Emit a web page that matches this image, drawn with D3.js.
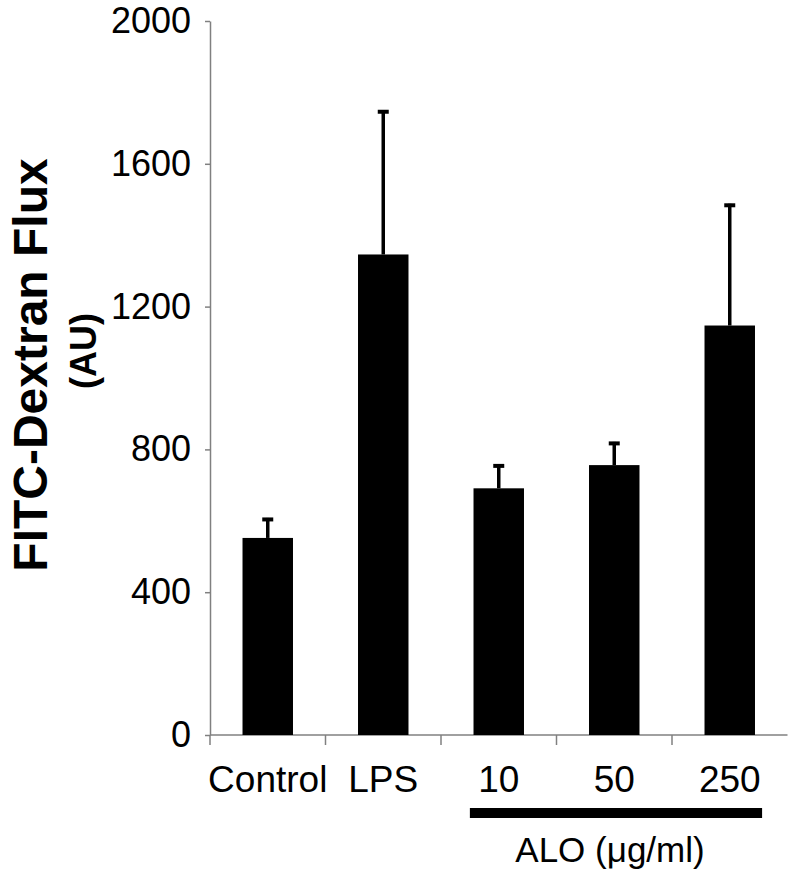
<!DOCTYPE html>
<html>
<head>
<meta charset="utf-8">
<script src="https://cdn.jsdelivr.net/npm/d3@7"></script>
<style>
  body { margin: 0; background: #fff; }
  svg { display: block; font-family: "Liberation Sans", Arial, sans-serif; }
</style>
</head>
<body>
<svg id="chart" width="800" height="880"></svg>
<script>
const categories = ["Control", "LPS", "10", "50", "250"];
const values = [552, 1346, 691, 756, 1147];
const errors = [56, 404, 67, 65, 341];
const yTicks = [0, 400, 800, 1200, 1600, 2000];
const yTitle = "FITC-Dextran Flux";
const yUnit = "(AU)";
const groupLabel = "ALO (\u03BCg/ml)";
const groupCats = ["10", "250"];

const svg = d3.select("#chart");
const x = d3.scaleBand().domain(categories).range([210, 787.5]).padding(0);
const y = d3.scaleLinear().domain([0, 2000]).range([735, 21]);
const bw = x.bandwidth();
const barW = bw * 0.437;
const axisColor = "#808080";

// Y axis
const yAxis = svg.append("g")
  .attr("transform", "translate(210,0)")
  .call(d3.axisLeft(y).tickValues(yTicks).tickFormat(d3.format("d"))
    .tickSize(5).tickPadding(14).tickSizeOuter(0));
yAxis.select(".domain").attr("stroke", axisColor).attr("stroke-width", 1.5);
yAxis.selectAll(".tick line").attr("stroke", axisColor).attr("stroke-width", 1.5);
yAxis.selectAll(".tick text").attr("font-size", 36).attr("fill", "#000")
  .attr("font-family", "Liberation Sans, Arial, sans-serif");

// X axis line and boundary ticks
svg.append("line")
  .attr("x1", x.range()[0]).attr("x2", x.range()[1])
  .attr("y1", y(0)).attr("y2", y(0))
  .attr("stroke", axisColor).attr("stroke-width", 1.5);
svg.selectAll(".xtick").data(categories).enter().append("line")
  .attr("class", "xtick")
  .attr("x1", d => x(d)).attr("x2", d => x(d))
  .attr("y1", y(0)).attr("y2", y(0) + 10)
  .attr("stroke", axisColor).attr("stroke-width", 1.5);

// Bars
svg.selectAll(".bar").data(categories).enter().append("rect")
  .attr("class", "bar")
  .attr("x", d => x(d) + (bw - barW) / 2)
  .attr("width", barW)
  .attr("y", (d, i) => y(values[i]))
  .attr("height", (d, i) => y(0) - y(values[i]))
  .attr("fill", "#000");

// Error bars (upper only)
svg.selectAll(".err").data(categories).enter().append("line")
  .attr("class", "err")
  .attr("x1", d => x(d) + bw / 2).attr("x2", d => x(d) + bw / 2)
  .attr("y1", (d, i) => y(values[i]))
  .attr("y2", (d, i) => y(values[i] + errors[i]))
  .attr("stroke", "#000").attr("stroke-width", 3.5);
svg.selectAll(".cap").data(categories).enter().append("line")
  .attr("class", "cap")
  .attr("x1", d => x(d) + bw / 2 - 5.5).attr("x2", d => x(d) + bw / 2 + 5.5)
  .attr("y1", (d, i) => y(values[i] + errors[i]) + 1.5)
  .attr("y2", (d, i) => y(values[i] + errors[i]) + 1.5)
  .attr("stroke", "#000").attr("stroke-width", 4);

// Category labels
svg.selectAll(".xlabel").data(categories).enter().append("text")
  .attr("class", "xlabel")
  .attr("x", d => x(d) + bw / 2)
  .attr("y", 792)
  .attr("text-anchor", "middle")
  .attr("font-size", 37)
  .text(d => d);

// Group bar and label
const gx0 = x(groupCats[0]) + bw * 0.25;
const gx1 = x(groupCats[1]) + bw * 0.78;
svg.append("rect")
  .attr("x", gx0).attr("width", gx1 - gx0)
  .attr("y", 808).attr("height", 10)
  .attr("fill", "#000");
svg.append("text")
  .attr("x", 610).attr("y", 862)
  .attr("text-anchor", "middle")
  .attr("font-size", 35)
  .text(groupLabel);

// Y title
svg.append("text")
  .attr("transform", "translate(47,365) rotate(-90)")
  .attr("text-anchor", "middle")
  .attr("font-size", 48)
  .attr("font-weight", "bold")
  .text(yTitle);
svg.append("text")
  .attr("transform", "translate(96,351) rotate(-90)")
  .attr("text-anchor", "middle")
  .attr("font-size", 36)
  .attr("font-weight", "bold")
  .text(yUnit);
</script>
</body>
</html>
